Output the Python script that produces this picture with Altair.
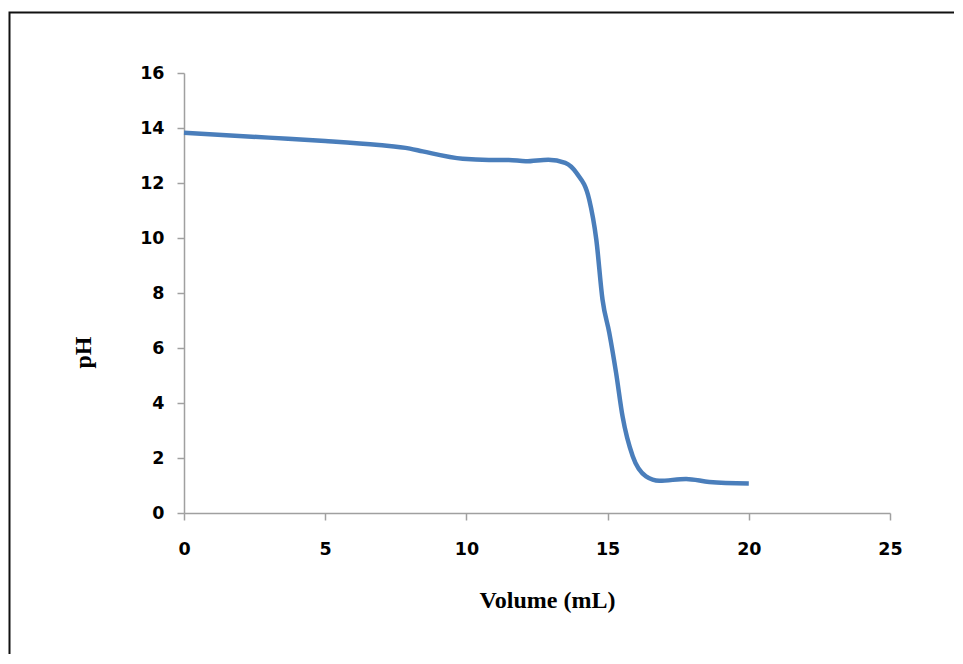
import altair as alt
import pandas as pd

volume = [0, 3, 5, 6.9, 8, 8.45, 9.87, 10.8, 11.5, 12.1, 12.9, 13.5, 13.9,
          14.35, 14.6, 14.82, 15.06, 15.3, 15.53, 15.89, 16.36, 16.83, 17.78, 18.6, 20]
ph = [13.83, 13.65, 13.53, 13.38, 13.25, 13.15, 12.88, 12.84, 12.84, 12.79, 12.85, 12.73, 12.36,
      11.39, 9.94, 7.76, 6.55, 5.1, 3.51, 2.06, 1.33, 1.17, 1.24, 1.13, 1.07]
x_ticks = [0, 5, 10, 15, 20, 25]
y_ticks = [0, 2, 4, 6, 8, 10, 12, 14, 16]

df = pd.DataFrame({"Volume": volume, "pH": ph})

W, H = 706, 440

line = alt.Chart(df).mark_line(
    color="#4a7ebb", strokeWidth=4.5, interpolate="monotone"
).encode(
    x=alt.X("Volume:Q",
            scale=alt.Scale(domain=[0, 25], nice=False, zero=True),
            axis=alt.Axis(values=x_ticks, title="Volume (mL)", labelFlush=False,
                          titleX=363, titleY=94, titleBaseline="alphabetic",
                          titleAlign="center",
                          labelPadding=20, tickSize=7)),
    y=alt.Y("pH:Q",
            scale=alt.Scale(domain=[0, 16], nice=False),
            axis=alt.Axis(values=y_ticks, title="pH", labelFlush=False,
                          titleX=-101, titleY=279, titleAngle=-90,
                          titleBaseline="middle", titleAlign="center",
                          labelPadding=13, tickSize=7)),
)

frame = alt.Chart(pd.DataFrame({"a": [0]})).mark_rect(
    filled=False, stroke="#111111", strokeWidth=2, clip=False
).encode(
    x=alt.value(-174.5), x2=alt.value(820),
    y=alt.value(-60.5), y2=alt.value(640),
)

chart = alt.layer(line, frame).properties(
    width=W, height=H,
    autosize=alt.AutoSizeParams(type="none"),
    padding={"left": 176, "top": 65, "right": 64, "bottom": 141},
    background="white",
).configure_view(stroke=None).configure_axis(
    grid=False,
    domainColor="#a0a0a0", tickColor="#a0a0a0", domainWidth=1.5, tickWidth=1.5,
    labelFont="DejaVu Sans", labelFontWeight="bold", labelFontSize=17.5, labelColor="#000000",
    titleFont="Liberation Serif", titleFontWeight="bold", titleFontSize=24, titleColor="#000000",
)

chart.save("out.html", embed_options={"renderer": "svg", "actions": False})
